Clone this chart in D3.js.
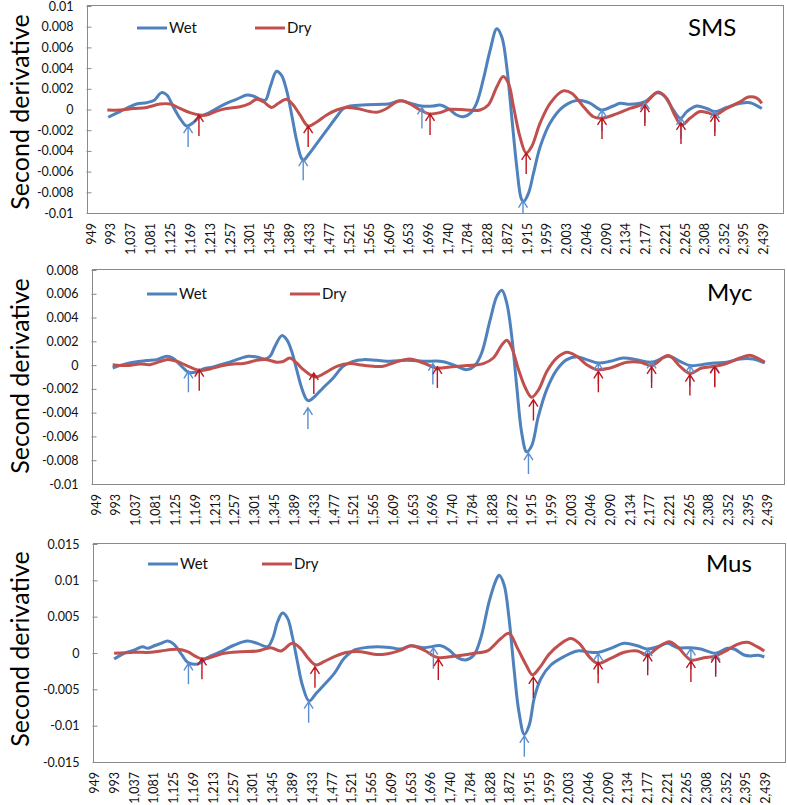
<!DOCTYPE html>
<html><head><meta charset="utf-8">
<script src="https://cdn.jsdelivr.net/npm/d3@7"></script>
<style>
html,body{margin:0;padding:0;background:#fff;}
svg{display:block;font-family:Lato,"Open Sans",sans-serif;}
</style></head>
<body>
<svg id="chart" width="787" height="805"></svg>
<script>
// ---- data ----
const xTickValues = [949,993,1037,1081,1125,1169,1213,1257,1301,1345,1389,1433,1477,1521,1565,1609,1653,1696,1740,1784,1828,1872,1915,1959,2003,2046,2090,2134,2177,2221,2265,2308,2352,2395,2439];
const seriesNames = ["Wet","Dry"];
const panelTitles = ["SMS","Myc","Mus"];
const smsYTicks = [0.01,0.008,0.006,0.004,0.002,0,-0.002,-0.004,-0.006,-0.008,-0.01];
const mycYTicks = [0.008,0.006,0.004,0.002,0,-0.002,-0.004,-0.006,-0.008,-0.01];
const musYTicks = [0.015,0.01,0.005,0,-0.005,-0.01,-0.015];

const smsWet = [[988,-0.00075],[1014,-0.0002],[1036,0.00027],[1051,0.00053],[1073,0.00066],[1090,0.0009],[1106,0.00163],[1118,0.0014],[1132,0.00027],[1147,-0.00085],[1162,-0.0016],[1176,-0.00127],[1191,-0.0007],[1206,-0.00043],[1228,0.0001],[1250,0.0006],[1273,0.001],[1295,0.0014],[1309,0.0013],[1324,0.001],[1336,0.0009],[1347,0.0022],[1361,0.0037],[1372,0.0033],[1383,0.0019],[1394,-0.0004],[1405,-0.0029],[1416,-0.0047],[1421,-0.0049],[1431,-0.0044],[1450,-0.0033],[1472,-0.002],[1494,-0.0007],[1509,0.0001],[1524,0.00034],[1561,0.00046],[1597,0.0005],[1612,0.00055],[1634,0.00085],[1657,0.0006],[1682,0.00034],[1708,0.00034],[1723,0.00043],[1741,0.0001],[1760,-0.00053],[1775,-0.0007],[1790,-0.00037],[1804,0.0006],[1819,0.0029],[1834,0.0057],[1849,0.0078],[1860,0.007],[1871,0.0041],[1882,-0.0007],[1893,-0.0055],[1903,-0.0086],[1908,-0.0089],[1919,-0.0081],[1930,-0.0062],[1945,-0.0036],[1967,-0.0013],[1996,0.00027],[2030,0.0009],[2056,0.0006],[2081,-0.00005],[2107,0.00034],[2122,0.0006],[2144,0.0005],[2177,0.00075],[2203,0.0016],[2218,0.0014],[2240,-0.00005],[2256,-0.00085],[2270,-0.0002],[2292,0.00034],[2314,0.0001],[2332,-0.0002],[2358,0.0002],[2388,0.0006],[2410,0.00066],[2436,0.0001]];
const smsDry = [[986,-0.00005],[1014,-0.00005],[1044,0.0001],[1073,0.0002],[1103,0.00053],[1125,0.00053],[1147,0.0001],[1169,-0.0003],[1190,-0.00053],[1206,-0.00053],[1228,-0.00015],[1250,0.0001],[1280,0.00027],[1302,0.0006],[1317,0.001],[1332,0.00075],[1350,0.0002],[1365,0.0006],[1383,0.001],[1398,0.00043],[1413,-0.00053],[1431,-0.0016],[1450,-0.0012],[1472,-0.00053],[1494,-0.00005],[1516,0.0002],[1539,0.0001],[1568,-0.0002],[1583,-0.00027],[1605,0.0001],[1627,0.00075],[1640,0.00085],[1657,0.00053],[1679,-0.00005],[1701,-0.00043],[1723,-0.0003],[1745,0.00002],[1782,-0.00005],[1812,-0.00005],[1830,0.00043],[1849,0.0022],[1863,0.0032],[1875,0.0025],[1886,0.00027],[1900,-0.0026],[1914,-0.0042],[1926,-0.0036],[1945,-0.0013],[1967,0.0006],[1996,0.0018],[2015,0.00157],[2041,0.00027],[2063,-0.0007],[2081,-0.00085],[2107,-0.00053],[2144,0.0001],[2177,0.0006],[2206,0.0017],[2225,0.0011],[2243,-0.00053],[2258,-0.0015],[2277,-0.00085],[2299,-0.0002],[2316,-0.0003],[2332,-0.00053],[2358,0.0001],[2388,0.00075],[2406,0.0012],[2425,0.0011],[2436,0.0006]];
const smsWetArrows = [[1165,-0.0016],[1420,-0.0048],[1683,0.0002],[1907,-0.0088],[2082,-0.00005],[2177,0.00072],[2257,-0.00082],[2332,-0.00015]];
const smsDryArrows = [[1189,-0.00053],[1431,-0.0016],[1701,-0.00043],[1914,-0.0042],[2082,-0.00082],[2177,0.00043],[2257,-0.0013],[2332,-0.00053]];

const mycWet = [[987,-0.00024],[1010,0.00004],[1033,0.00024],[1062,0.00038],[1085,0.00046],[1107,0.00074],[1121,0.00057],[1140,-0.0001],[1155,-0.0006],[1170,-0.0006],[1188,-0.00032],[1210,-0.00015],[1240,0.00018],[1262,0.00046],[1288,0.00074],[1306,0.00069],[1325,0.00052],[1336,0.00074],[1347,0.00158],[1362,0.00248],[1373,0.00214],[1384,0.00116],[1395,-0.00038],[1406,-0.0019],[1417,-0.0029],[1422,-0.003],[1436,-0.0026],[1454,-0.0019],[1476,-0.00108],[1498,-0.0001],[1520,0.00032],[1543,0.00046],[1572,0.0004],[1602,0.00032],[1639,0.0004],[1676,0.00032],[1713,0.00032],[1735,0.00013],[1753,-0.00015],[1772,-0.00038],[1790,-0.00004],[1805,0.001],[1824,0.0038],[1839,0.0058],[1850,0.0063],[1861,0.0052],[1872,0.0024],[1883,-0.0018],[1894,-0.0057],[1905,-0.0073],[1916,-0.0068],[1931,-0.0043],[1949,-0.0021],[1972,-0.00038],[1994,0.00046],[2016,0.0007],[2038,0.00046],[2064,0.00018],[2090,0.00032],[2119,0.0006],[2149,0.00046],[2182,0.00024],[2219,0.00074],[2245,0.00032],[2267,-0.00004],[2293,0.00004],[2322,0.00018],[2348,0.00024],[2378,0.00052],[2407,0.00052],[2433,0.00018]];
const mycDry = [[987,0.00004],[1018,-0.00004],[1048,0.0001],[1070,0.00004],[1107,0.00046],[1129,0.00032],[1151,-0.00004],[1179,-0.00044],[1203,-0.00032],[1232,-0.00004],[1255,0.0001],[1277,0.00013],[1306,0.0004],[1329,0.00046],[1351,0.00024],[1365,0.0003],[1380,0.0006],[1395,0.00018],[1410,-0.00038],[1436,-0.001],[1458,-0.00066],[1484,-0.0001],[1514,0.00013],[1540,0],[1565,-0.0001],[1587,-0.0001],[1610,0.0002],[1646,0.00052],[1676,0.00018],[1706,-0.00024],[1735,-0.00015],[1772,-0.00004],[1809,0.00013],[1831,0.0006],[1850,0.0017],[1861,0.0021],[1872,0.00145],[1887,-0.00038],[1902,-0.0019],[1916,-0.0027],[1931,-0.0021],[1950,-0.00052],[1972,0.0006],[1994,0.00108],[2016,0.00074],[2038,0.00004],[2060,-0.00038],[2090,-0.00024],[2127,0.00024],[2157,0.00024],[2182,-0.00004],[2219,0.0008],[2245,-0.0001],[2267,-0.0007],[2293,-0.00024],[2322,-0.0001],[2348,0.00013],[2378,0.0006],[2400,0.00082],[2419,0.00055],[2433,0.00024]];
const mycWetArrows = [[1155,-0.00052],[1420,-0.0036],[1697,0.00013],[1909,-0.0074],[2064,0.00018],[2182,0.00032],[2267,-0.00004],[2322,-0.00004]];
const mycDryArrows = [[1179,-0.00038],[1433,-0.00066],[1707,-0.00015],[1920,-0.0029],[2064,-0.00052],[2182,-0.00015],[2267,-0.0008],[2322,-0.0001]];

const musWet = [[994,-0.00083],[1016,-0.00004],[1038,0.0004],[1057,0.00087],[1068,0.00064],[1083,0.001],[1098,0.00133],[1113,0.00165],[1127,0.0012],[1142,-0.00004],[1157,-0.00128],[1172,-0.00156],[1183,-0.00142],[1201,-0.00064],[1231,0.00018],[1261,0.0011],[1290,0.00165],[1312,0.00133],[1335,0.00087],[1346,0.002],[1357,0.0043],[1368,0.0055],[1379,0.0048],[1390,0.0022],[1401,-0.0012],[1412,-0.0044],[1427,-0.0066],[1442,-0.0056],[1460,-0.0044],[1483,-0.0028],[1505,-0.00073],[1527,0.0004],[1557,0.00078],[1579,0.00087],[1609,0.00073],[1631,0.00055],[1653,0.001],[1682,0.00073],[1720,0.001],[1738,0.0004],[1757,-0.00064],[1775,-0.00096],[1793,-0.00028],[1808,0.002],[1827,0.0071],[1842,0.01],[1849,0.0107],[1860,0.0094],[1871,0.0048],[1882,-0.0021],[1893,-0.0081],[1905,-0.0112],[1916,-0.0099],[1927,-0.0062],[1942,-0.0035],[1964,-0.00165],[1993,-0.0005],[2023,0.00028],[2053,0.0001],[2071,0.0001],[2097,0.00064],[2127,0.00133],[2156,0.001],[2179,0.00055],[2201,0.00087],[2223,0.00133],[2245,0.00073],[2275,0.00073],[2297,0.00055],[2330,-0.00004],[2356,0.00064],[2371,0.00055],[2393,-0.00028],[2408,-0.0004],[2425,-0.0003],[2438,-0.00055]];
const musDry = [[994,-0.00004],[1038,0.0001],[1076,0.0001],[1098,0.00028],[1135,0.0005],[1157,0.00018],[1176,-0.0005],[1190,-0.00083],[1209,-0.0006],[1238,-0.00004],[1275,0.00018],[1312,0.00028],[1342,0.00073],[1364,0.00028],[1390,0.00133],[1409,0.00055],[1424,-0.00064],[1442,-0.00165],[1460,-0.0012],[1483,-0.0005],[1512,0.0001],[1542,0.00018],[1571,-0.00018],[1594,-0.00018],[1631,0.0004],[1653,0.001],[1682,0.0004],[1712,-0.0006],[1757,-0.00037],[1793,-0.00004],[1823,0.00028],[1853,0.002],[1871,0.0027],[1890,0.00064],[1909,-0.00165],[1923,-0.003],[1938,-0.0021],[1960,-0.00018],[1982,0.0011],[2008,0.002],[2027,0.00133],[2049,-0.0005],[2068,-0.00142],[2097,-0.00073],[2127,0.0001],[2156,0.00028],[2179,-0.00028],[2201,0.00073],[2227,0.00156],[2245,0.00087],[2275,-0.00096],[2304,-0.00064],[2330,-0.0004],[2356,0.0004],[2378,0.0012],[2400,0.00147],[2422,0.00087],[2438,0.00028]];
const musWetArrows = [[1159,-0.00142],[1426,-0.0067],[1703,0.00073],[1905,-0.0114],[2069,-0.00004],[2179,0.00055],[2275,0.00065],[2330,-0.00004]];
const musDryArrows = [[1189,-0.00073],[1440,-0.0019],[1714,-0.00083],[1925,-0.0033],[2069,-0.00128],[2179,-0.00018],[2275,-0.0011],[2330,-0.00037]];

// ---- layout / style ----
const wetColor = "#4F81BD", dryColor = "#C0504D";
const wetArrowColor = "#5B8ED0", dryArrowColor = "#C0141C";
const panels = [
  {title:panelTitles[0], wet:smsWet, dry:smsDry, wa:smsWetArrows, da:smsDryArrows, yTicks:smsYTicks,
   L:87, R:783, T:6, B:213, xd:[941,2483], yd:[-0.01,0.01], lgWet:137, lgDry:255, lgY:28, tX:688, tY:36, ytY:112},
  {title:panelTitles[1], wet:mycWet, dry:mycDry, wa:mycWetArrows, da:mycDryArrows, yTicks:mycYTicks,
   L:92, R:784, T:270, B:484, xd:[941.2,2475.6], yd:[-0.01,0.008], lgWet:147, lgDry:290, lgY:294, tX:707, tY:301, ytY:376},
  {title:panelTitles[2], wet:musWet, dry:musDry, wa:musWetArrows, da:musDryArrows, yTicks:musYTicks,
   L:93, R:785, T:544, B:762, xd:[947,2484], yd:[-0.015,0.015], lgWet:148, lgDry:262, lgY:564, tX:706, tY:572, ytY:649}
];

const svg = d3.select("#chart");
const fmtX = d3.format(",");
const fmtY = v => v === 0 ? "0" : String(+v.toFixed(3));

panels.forEach((p, i) => {
  const x = d3.scaleLinear().domain(p.xd).range([p.L, p.R]);
  const y = d3.scaleLinear().domain(p.yd).range([p.B, p.T]);
  const g = svg.append("g");

  // plot border
  g.append("rect").attr("x", p.L + 0.5).attr("y", p.T - 0.5).attr("width", p.R - p.L).attr("height", p.B - p.T + 1)
    .attr("fill", "none").attr("stroke", "#8a8a8a").attr("stroke-width", 1);

  // y axis
  const yAxis = d3.axisLeft(y).tickValues(p.yTicks).tickFormat(fmtY).tickSize(4).tickPadding(10);
  const ya = g.append("g").attr("transform", `translate(${p.L + 0.5},0)`).call(yAxis);
  ya.select(".domain").remove();
  ya.selectAll(".tick line").attr("stroke", "#8a8a8a").attr("x2", 4).attr("x1", -1);
  ya.selectAll(".tick text").attr("font-size", 12.5).attr("fill", "#111").attr("font-family", "Lato");

  // x labels
  const xAxis = d3.axisBottom(x).tickValues(xTickValues).tickFormat(fmtX).tickSize(0);
  const xa = g.append("g").attr("transform", `translate(0,${p.B})`).call(xAxis);
  xa.select(".domain").remove();
  xa.selectAll(".tick text")
    .attr("font-size", 12.5).attr("fill", "#111").attr("font-family", "Lato")
    .attr("text-anchor", "end").attr("transform", "rotate(-90)")
    .attr("x", -10).attr("y", 0).attr("dy", "0.36em");

  // lines
  const line = d3.line().x(d => x(d[0])).y(d => y(d[1])).curve(d3.curveCatmullRom.alpha(0.5));
  g.append("path").datum(p.wet).attr("d", line).attr("fill", "none").attr("stroke", wetColor).attr("stroke-width", 3).attr("stroke-linejoin", "round");
  g.append("path").datum(p.dry).attr("d", line).attr("fill", "none").attr("stroke", dryColor).attr("stroke-width", 3).attr("stroke-linejoin", "round");

  // arrows
  const clipId = "clip" + i;
  svg.append("clipPath").attr("id", clipId).append("rect").attr("x", p.L).attr("y", p.T).attr("width", p.R - p.L).attr("height", p.B - p.T);
  const ag = g.append("g").attr("clip-path", `url(#${clipId})`);
  const arrowPath = d => {
    const ax = x(d[0]), ay = y(d[1]);
    return `M${ax},${ay + 21}L${ax},${ay}M${ax - 4.5},${ay + 7}L${ax},${ay}L${ax + 4.5},${ay + 7}`;
  };
  ag.selectAll(".wa").data(p.wa).join("path").attr("d", arrowPath).attr("fill", "none").attr("stroke", wetArrowColor).attr("stroke-width", 1.4);
  ag.selectAll(".da").data(p.da).join("path").attr("d", arrowPath).attr("fill", "none").attr("stroke", dryArrowColor).attr("stroke-width", 1.4);

  // legend
  [[p.lgWet, wetColor, seriesNames[0]], [p.lgDry, dryColor, seriesNames[1]]].forEach(([lx, c, name]) => {
    g.append("line").attr("x1", lx).attr("x2", lx + 30).attr("y1", p.lgY).attr("y2", p.lgY).attr("stroke", c).attr("stroke-width", 3);
    g.append("text").attr("x", lx + 32).attr("y", p.lgY + 5).attr("font-size", 15).attr("fill", "#111").text(name);
  });

  // panel title
  g.append("text").attr("x", p.tX).attr("y", p.tY).attr("font-size", 24).attr("fill", "#000").text(p.title);

  // y title
  g.append("text").attr("transform", `translate(29,${p.ytY}) rotate(-90)`).attr("text-anchor", "middle")
    .attr("font-size", 25).attr("fill", "#000").text("Second derivative");
});
</script>
</body></html>
